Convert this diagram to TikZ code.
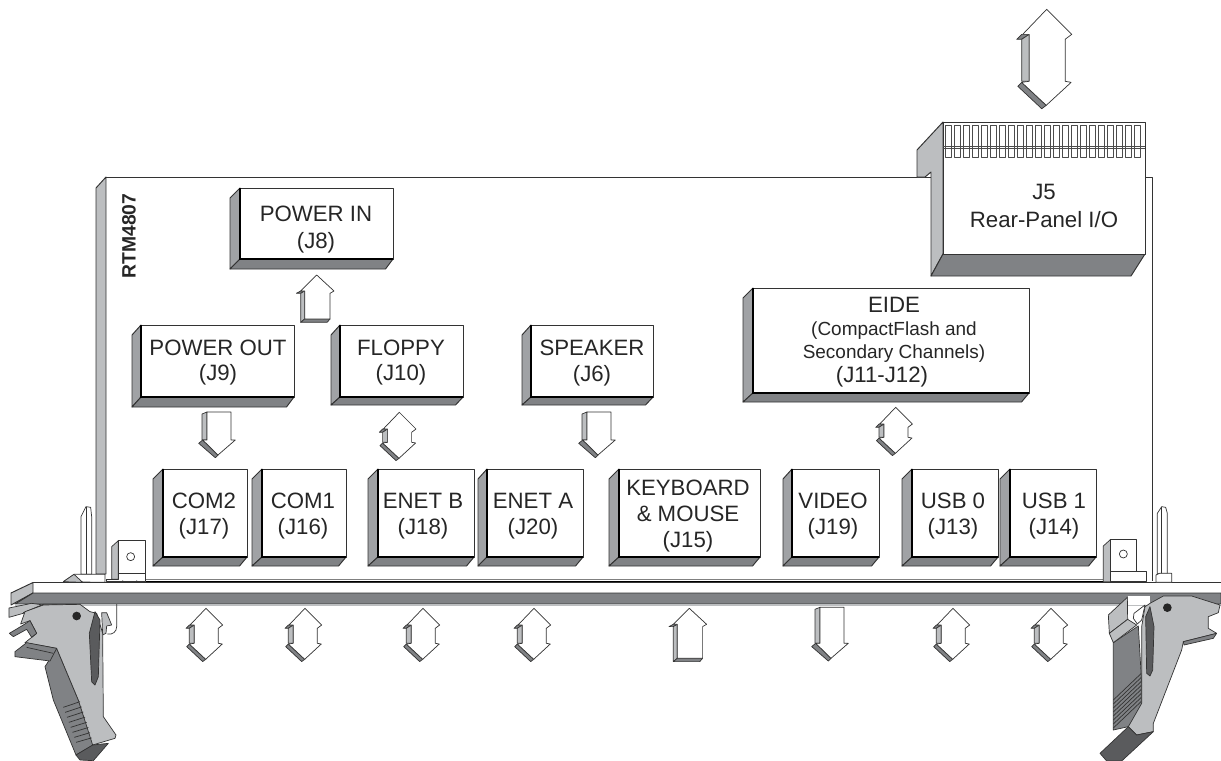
\documentclass[tikz,border=0pt]{standalone}
\usepackage{fontspec}
\setmainfont{Liberation Sans}
\definecolor{sidelight}{HTML}{BCBEC0}
\definecolor{sidemid}{HTML}{A0A2A5}
\definecolor{sidedark}{HTML}{808285}
\definecolor{edgeink}{HTML}{333333}
\tikzset{
  plate/.style={draw=edgeink,line width=0.55pt,line join=round},
  thinline/.style={draw=edgeink,line width=0.4pt,line join=round},
  boxtext/.style={align=center,inner sep=0pt,font=\fontsize{12.65}{14.6}\selectfont,text=black!85},
  smalltext/.style={align=center,inner sep=0pt,font=\fontsize{10.8}{13.1}\selectfont,text=black!85},
}
% block arrows, tip at (#1,#2)
\newcommand{\dblarrow}[4]{
  \begin{scope}[shift={(#1,#2)},scale=#3]
  \draw[thinline,fill=sidedark] (-16.7,16.7) -- (-20,20) -- (-16.7,20) -- (-11.7,16.7) -- cycle;
  \draw[thinline,fill=sidelight] (-16.7,20) -- (-11.7,16.7) -- (-11.7,{20+#4}) -- (-16.7,{20+#4}) -- cycle;
  \draw[thinline,fill=sidedark] (-16.7,{20.7+#4}) -- (-19.3,{23.3+#4}) -- (-3.3,{38.3+#4}) -- (-0.3,{36+#4}) -- cycle;
  \draw[thinline,fill=white] (0,0) -- (16.7,16.7) -- (12.3,20) -- (12.3,{20+#4}) -- (16.3,{20.7+#4}) -- (-0.3,{36+#4}) -- (-16.7,{20.7+#4}) -- (-11.7,{20+#4}) -- (-11.7,16.7) -- (-16,16.7) -- cycle;
  \end{scope}
}
\newcommand{\uparrowshape}[3]{
  \begin{scope}[shift={(#1,#2)}]
  \draw[thinline,fill=sidedark] (-16,16) -- (-20.3,18.3) -- (-16,18.3) -- (-12,16) -- cycle;
  \draw[thinline,fill=sidelight] (-16,18.3) -- (-12,16) -- (-12,#3) -- (-16,{#3+3.3}) -- cycle;
  \draw[thinline,fill=sidedark] (-12,#3) -- (-16,{#3+3.3}) -- (10.5,{#3+3.3}) -- (13.3,#3) -- cycle;
  \draw[thinline,fill=white] (0,0) -- (17.3,16) -- (13.3,18.3) -- (13.3,#3) -- (-12,#3) -- (-12,16) -- (-16,16) -- cycle;
  \end{scope}
}
\newcommand{\downarrowshape}[3]{
  \begin{scope}[shift={(#1,#2)}]
  \draw[thinline,fill=sidelight] (-16,2) -- (-11,0) -- (-11,{#3-15}) -- (-16,{#3-15}) -- cycle;
  \draw[thinline,fill=sidedark] (-15.3,{#3-15}) -- (-19.3,{#3-11.7}) -- (-2.7,{#3+2.7}) -- (0,#3) -- cycle;
  \draw[thinline,fill=white] (-11,0) -- (13,0) -- (13,{#3-15}) -- (17.3,{#3-15}) -- (0,#3) -- (-15.3,{#3-15}) -- (-11,{#3-15}) -- cycle;
  \end{scope}
}
\begin{document}
\begin{tikzpicture}[x=0.02cm,y=-0.02cm]
\useasboundingbox (0,0) rectangle (1221,761);

% card
\draw[plate,fill=sidelight] (96,188) -- (106,177) -- (106,574) -- (96,574) -- cycle;
\draw[plate] (106,177) -- (931,177);
\draw[plate] (1145,177) -- (1152,177) -- (1152,581);
\draw[draw=black!50,line width=0.5pt] (146,579.3) -- (1103,579.3);
\draw[draw=black,line width=0.9pt] (146,581.5) -- (1103,581.5);

% J5
\draw[plate,fill=sidelight] (943,122) -- (917,150) -- (917,177) -- (925,177) -- (931,172) -- (931,276) -- (943,254) -- cycle;
\draw[plate,fill=sidedark] (943,254) -- (1145,254) -- (1131,276) -- (931,276) -- cycle;
\draw[plate,fill=white] (943,122) rectangle (1145,254);
\foreach \x in {0,...,21} {
  \draw[thinline,draw=black!70] ({945+9*\x},125) rectangle ({951.3+9*\x},157);
}
\draw[thinline,draw=black!70] (943,146) -- (1145,146);
\draw[thinline,draw=black!70] (943,148) -- (1145,148);
\node[boxtext,font=\fontsize{12.65}{16.4}\selectfont] (jfive) at (1044,206) {J5\\Rear-Panel I/O};

% connectors: side edge, front left, front right, top, front bottom, bottom
\foreach \sx/\fx/\rx/\ty/\fy/\by in {
  230/240/393/188/259/269, 132/141/294/325/397/407, 331/340/463/325/397/405,
  522/531/653/325/397/405, 743/753/1029/288/393/402,
  153/163/247/469/557/566, 252/262/346/469/557/566, 368/378/474/469/557/566,
  478/487/583/469/557/566, 609/619/760/469/557/566, 783/792/879/469/557/566,
  902/912/998/469/557/566, 1000/1010/1096/469/557/566} {
  \draw[plate,fill=sidemid] (\fx,\ty) -- (\sx,{\ty+10}) -- (\sx,\by) -- (\fx,\fy) -- cycle;
  \draw[plate,fill=sidedark] (\fx,\fy) -- (\rx,\fy) -- ({\rx-7.5},\by) -- (\sx,\by) -- cycle;
  \draw[thinline,fill=white] (\fx,\ty) rectangle (\rx,\fy);
  \draw[draw=black,line width=0.8pt] (\fx,\ty) -- (\fx,\fy) -- (\rx,\fy);
}

\node[boxtext,font=\fontsize{12.65}{15.4}\selectfont] (powerin) at (316,230) {POWER IN\\(J8)};
\node[boxtext] (powerout) at (218,362.5) {POWER OUT\\(J9)};
\node[boxtext] (floppy) at (401,362.5) {FLOPPY\\(J10)};
\node[boxtext] (speaker) at (592,363) {SPEAKER\\(J6)};
\node[boxtext,anchor=north] (eidetop) at (894,297) {EIDE};
\node[smalltext,anchor=north] (eidesub) at (894,321) {(CompactFlash and\\Secondary Channels)};
\node[boxtext,anchor=north] (eidejack) at (882,366) {(J11-J12)};
\node[boxtext] (comtwo) at (204,516) {COM2\\(J17)};
\node[boxtext] (comone) at (303,516) {COM1\\(J16)};
\node[boxtext] (enetb) at (423,516) {ENET B\\(J18)};
\node[boxtext] (eneta) at (533,516) {ENET A\\(J20)};
\node[boxtext] (keyboard) at (688,516) {KEYBOARD\\\& MOUSE\\(J15)};
\node[boxtext] (video) at (833,516) {VIDEO\\(J19)};
\node[boxtext] (usbzero) at (953,516) {USB 0\\(J13)};
\node[boxtext] (usbone) at (1054,516) {USB 1\\(J14)};
\node[rotate=90,inner sep=0pt,font=\fontsize{11}{13}\selectfont\bfseries,text=black!85] (rtm) at (129,236) {RTM4807};

% block arrows
\dblarrow{1046.7}{9.3}{1.5}{28}
\uparrowshape{316.7}{275}{44}
\downarrowshape{218}{412}{43}
\dblarrow{399.3}{412.3}{1}{10}
\downarrowshape{598}{412}{43}
\dblarrow{895.7}{407.3}{1}{10}
\foreach \x in {206,305,423,534,953,1051} {
  \dblarrow{\x}{608.3}{1}{15}
}
\uparrowshape{689.3}{608.3}{50}
\downarrowshape{831}{607.3}{51}

% left latch, pin and bracket
\begin{scope}[shift={(0,470)},scale=1/3]
\draw[thinline,fill=white] (243,313) -- (243,140) -- (258,110) -- (272,112) -- (275,140) -- (275,313) -- cycle;
\draw[thinline] (258,112) -- (258,313);
\draw[thinline,fill=white] (190,335) -- (222,313) -- (315,313) -- (315,337) -- cycle;
\draw[thinline,fill=sidelight] (190,335) -- (222,313) -- (248,337) -- cycle;
\draw[thinline,fill=sidelight] (335,230) -- (355,212) -- (355,328) -- (335,328) -- cycle;
\draw[thinline,fill=white] (355,212) -- (437,212) -- (437,335) -- (318,335) -- (318,328) -- (355,328) -- cycle;
\draw[thinline] (355,310) -- (437,310);
\draw[thinline] (392,260) circle (12);
\fill[edgeink] (368,335) circle (4) (410,335) circle (4);
\end{scope}

% front panel
\fill[white] (33,582) rectangle (1221,593);
\draw[plate] (33,582.5) -- (1221,582.5);
\draw[plate,fill=sidelight] (33,582.5) -- (11,593) -- (11,605) -- (33,593) -- cycle;
\draw[plate,fill=sidedark] (33,593) -- (1221,593) -- (1221,604) -- (15,604) -- cycle;
\draw[draw=sidelight,line width=0.6pt] (15,605) -- (1221,605);

\begin{scope}[shift={(0,470)},scale=1/3]
\draw[thinline] (350,402) -- (350,470) .. controls (350,485) and (338,495) .. (322,492);
\draw[thinline,fill=sidelight] (305,428) -- (320,428) -- (335,465) -- (320,468) -- (318,490) -- (308,495) -- cycle;
\draw[thinline,fill=sidelight] (27,414) -- (95,400) -- (130,405) -- (105,420) -- (27,442) -- cycle;
\draw[thinline,fill=sidedark!70!black] (70,428) -- (130,403) -- (240,403) -- (130,412) -- cycle;
\draw[thinline,fill=sidedark] (135,590) -- (170,535) -- (235,690) -- (280,825) -- (228,855) -- (160,690) -- cycle;
\draw[thinline,fill=sidelight] (75,425) -- (130,405) -- (240,403) -- (270,425) -- (290,430) -- (308,490) -- (310,740) -- (348,795) -- (345,805) -- (278,825) -- (235,690) -- (170,535) -- (75,518) -- (110,490) -- (90,452) -- (62,462) -- cycle;
\foreach \t in {0,...,7} {
  \draw[thinline] ({190+\t*5.5},{712+\t*15}) -- ({240+\t*5},{695+\t*15.5});
}
\draw[thinline,fill=sidedark!70!black] (228,855) -- (278,825) -- (325,820) -- (280,872) -- (240,870) -- cycle;
\draw[thinline,fill=sidedark] (28,490) -- (70,465) -- (90,452) -- (110,490) -- (95,502) -- (80,478) -- (40,500) -- cycle;
\draw[thinline,fill=sidedark] (45,545) -- (80,518) -- (170,535) -- (150,573) -- (45,560) -- cycle;
\draw[thinline] (80,532) -- (160,550);
\draw[thinline,fill=sidedark!70!black] (285,425) -- (268,490) -- (275,635) -- (285,645) -- (295,620) -- (300,450) -- cycle;
\fill[black!85] (230,438) circle (13);
\end{scope}

% right latch, pin and bracket
\begin{scope}[shift={(1000,470)},scale=1/3]
\draw[thinline,fill=sidelight] (310,228) -- (332,208) -- (332,335) -- (310,335) -- cycle;
\draw[thinline,fill=white] (332,208) -- (408,208) -- (408,305) -- (332,305) -- cycle;
\draw[thinline,fill=white] (332,305) -- (438,305) -- (438,335) -- (332,335) -- cycle;
\draw[thinline] (370,252) circle (12);
\draw[thinline,fill=white] (472,312) -- (472,130) -- (485,110) -- (497,112) -- (502,130) -- (502,312) -- cycle;
\draw[thinline] (485,112) -- (485,312);
\draw[thinline,fill=white] (468,337) -- (468,315) -- (478,310) -- (515,310) -- (515,337) -- cycle;
\fill[white] (385,378) -- (450,378) -- (450,404) -- (385,404) -- cycle;
\draw[thinline,fill=sidedark] (340,518) -- (415,468) -- (425,640) -- (425,720) -- (385,770) -- (340,780) -- cycle;
\foreach \t in {0,...,7} {
  \draw[thinline] (340,{690+\t*12}) -- (424,{610+\t*12});
}
\draw[thinline,fill=sidelight] (325,435) -- (382,382) -- (383,448) -- (328,490) -- cycle;
\draw[thinline,fill=sidelight] (328,490) -- (383,448) -- (410,465) -- (340,518) -- cycle;
\draw[thinline,fill=white] (435,405) -- (402,430) -- (400,445) -- (412,462) -- (425,450) -- cycle;
\draw[thinline,fill=sidelight] (450,400) -- (490,378) -- (575,378) -- (660,405) -- (655,428) -- (625,440) -- (625,475) -- (650,490) -- (550,515) -- (545,540) -- (460,760) -- (460,785) -- (410,795) -- (385,770) -- (425,700) -- (425,470) -- (435,410) -- cycle;
\draw[thinline,fill=sidedark] (550,515) -- (650,490) -- (640,505) -- (552,525) -- cycle;
\draw[thinline,fill=sidedark!70!black] (300,850) -- (385,770) -- (410,795) -- (460,785) -- (365,873) -- (320,873) -- cycle;
\draw[thinline,fill=sidedark!70!black] (450,410) -- (437,440) -- (440,610) -- (450,618) -- (458,600) -- (462,470) -- cycle;
\fill[black!85] (502,413) circle (13);
\end{scope}

\end{tikzpicture}
\end{document}
